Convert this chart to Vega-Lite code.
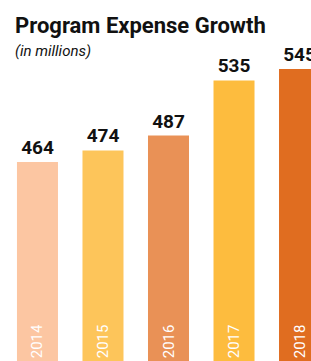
{
  "$schema": "https://vega.github.io/schema/vega-lite/v6.json",
  "autosize": {"type": "none"},
  "padding": {"top": 60, "left": 15, "right": 0, "bottom": 0},
  "width": 296,
  "height": 301,
  "background": "white",
  "title": {
    "text": "Program Expense Growth",
    "subtitle": "(in millions)",
    "anchor": "start",
    "frame": "group",
    "font": "Roboto",
    "fontSize": 22,
    "fontWeight": "bold",
    "color": "#111111",
    "subtitleFont": "Roboto",
    "subtitleFontSize": 15,
    "subtitleFontStyle": "italic",
    "subtitleColor": "#111111",
    "offset": -14,
    "subtitlePadding": 6
  },
  "data": {
    "values": [
      {"year": "2014", "value": 464},
      {"year": "2015", "value": 474},
      {"year": "2016", "value": 487},
      {"year": "2017", "value": 535},
      {"year": "2018", "value": 545}
    ]
  },
  "config": {"view": {"stroke": null}},
  "encoding": {
    "x": {
      "field": "year",
      "type": "nominal",
      "sort": null,
      "axis": null,
      "scale": {"range": [0, 307], "paddingInner": 0.374, "paddingOuter": 0.03}
    }
  },
  "layer": [
    {
      "mark": {"type": "bar"},
      "encoding": {
        "y": {"field": "value", "type": "quantitative", "axis": null, "scale": {"domain": [290.6, 552.8], "nice": false}},
        "color": {
          "field": "year",
          "type": "nominal",
          "legend": null,
          "scale": {"range": ["#FCC6A2", "#FDC55A", "#E99156", "#FDBC3E", "#E06D20"]}
        }
      }
    },
    {
      "mark": {"type": "text", "font": "Roboto", "fontSize": 19, "fontWeight": "bold", "dy": -4, "baseline": "bottom", "color": "#111111"},
      "encoding": {
        "y": {"field": "value", "type": "quantitative"},
        "text": {"field": "value"}
      }
    },
    {
      "mark": {"type": "text", "angle": 270, "align": "left", "baseline": "middle", "font": "Roboto", "fontSize": 15, "color": "white"},
      "encoding": {
        "y": {"datum": 293, "type": "quantitative"},
        "text": {"field": "year"}
      }
    }
  ]
}
